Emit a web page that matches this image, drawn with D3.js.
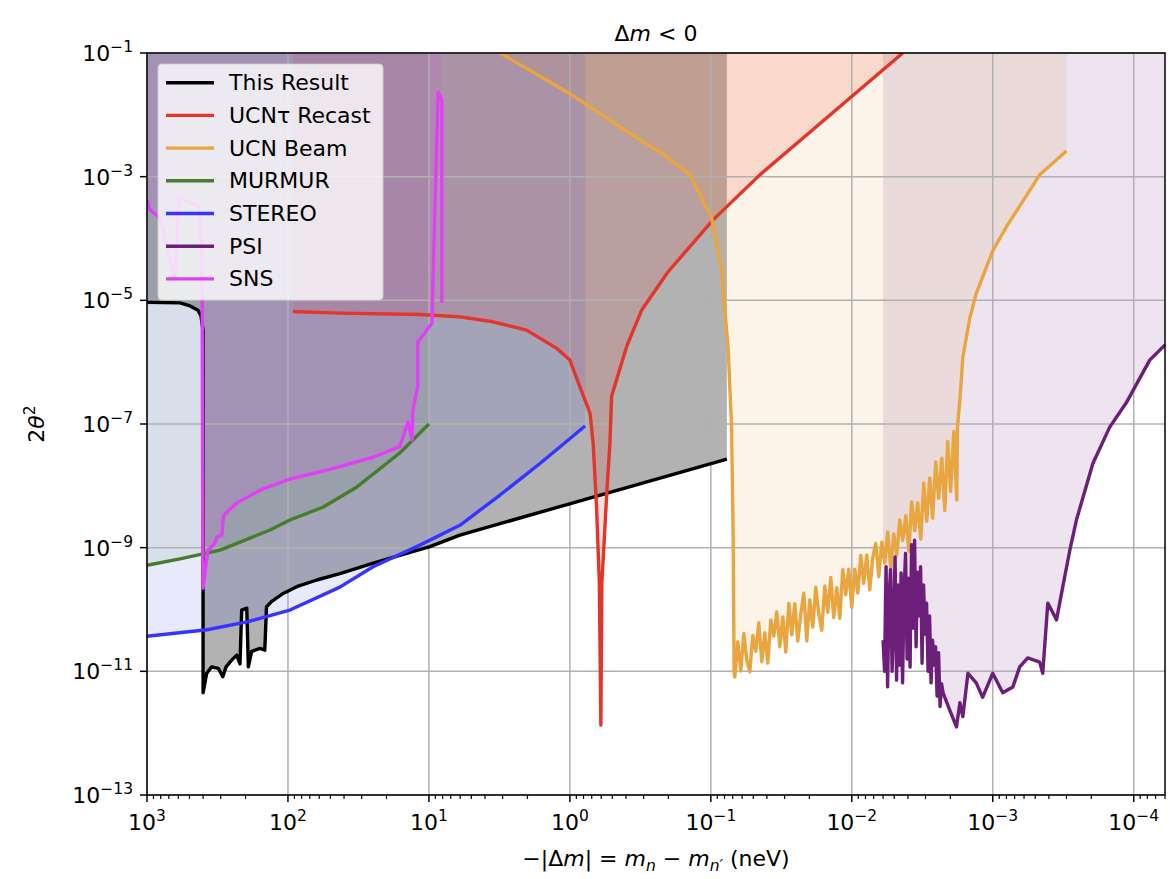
<!DOCTYPE html>
<html>
<head>
<style>
  body { margin: 0; background: #fff; }
  #chart svg { font-family: 'DejaVu Sans', sans-serif; }
</style>
</head>
<body>
<script src="https://d3js.org/d3.v7.min.js"></script>
<div id="chart"></div>
<script>
// curves: x = |Δm| in neV (axis runs right to left), y = 2θ²
const thisResultX = [1000, 583, 495, 435, 414, 401, 400, 377, 348, 312, 290, 275, 251, 231, 219, 213, 196, 191, 181, 158, 146, 142, 131, 108, 86.7, 62.5, 42.8, 24.8, 14.4, 9.84, 6.03, 0.077];
const thisResultY = [9.3e-6, 9.1e-6, 8.1e-6, 6.9e-6, 5.6e-6, 3.3e-6, 4.5e-12, 9.3e-12, 1.18e-11, 1.12e-11, 8.2e-12, 1.18e-11, 1.52e-11, 1.83e-11, 1.32e-11, 9.8e-11, 1.05e-10, 1.18e-11, 2.1e-11, 2.35e-11, 2.2e-11, 1.1e-10, 1.34e-10, 1.82e-10, 2.34e-10, 3.0e-10, 3.8e-10, 5.6e-10, 8.1e-10, 1.04e-9, 1.6e-9, 2.7e-8];

const ucnTauX = [92.2, 42.8, 11.6, 6.03, 3.52, 2.03, 1.24, 1.0, 0.85, 0.72, 0.684, 0.647, 0.618, 0.603, 0.593, 0.549, 0.52, 0.506, 0.396, 0.31, 0.201, 0.0964, 0.0449, 0.00435];
const ucnTauY = [6.6e-6, 6.2e-6, 5.9e-6, 5.4e-6, 4.5e-6, 3.3e-6, 1.67e-6, 1.08e-6, 4.0e-7, 1.5e-7, 4.9e-8, 4.6e-9, 2.7e-10, 1.35e-12, 2.7e-10, 6.7e-9, 4.9e-8, 2.8e-7, 1.78e-6, 6.9e-6, 2.9e-5, 2.0e-4, 1.07e-3, 0.1];

const ucnBeamX = [3.13, 1.0, 0.442, 0.206, 0.141, 0.0989, 0.0839, 0.0754, 0.0713, 0.0695, 0.0684,
  0.0676, 0.06437, 0.06129, 0.05836, 0.05557, 0.05292, 0.05039, 0.04798, 0.04569, 0.0435,
  0.04142, 0.03944, 0.03756, 0.03576, 0.03405, 0.03242, 0.03087, 0.0294, 0.02799, 0.02665,
  0.02538, 0.02417, 0.02301, 0.02191, 0.02086, 0.01987, 0.01892, 0.01801, 0.01715, 0.01633,
  0.01555, 0.01481, 0.0141, 0.01343, 0.01278, 0.01217, 0.01159, 0.01104, 0.01051, 0.01001,
  0.00953, 0.00907, 0.00864, 0.00823, 0.00783, 0.00746, 0.0071, 0.00676, 0.00644, 0.00613,
  0.00584, 0.00556, 0.00529, 0.00504, 0.0048, 0.00457, 0.00435, 0.00414, 0.00394, 0.00376,
  0.00358, 0.00341, 0.00324, 0.00309, 0.00294, 0.0028, 0.00267, 0.00254, 0.00242, 0.0023,
  0.00219, 0.00209, 0.00199, 0.00189, 0.0018,
  0.00178, 0.00171, 0.00163, 0.00146, 0.00131, 0.000995, 0.0008, 0.000465, 0.0003];
const ucnBeamY = [0.1, 2.2e-2, 6.4e-3, 2.1e-3, 1.07e-3, 2.2e-4, 3.1e-5, 1.67e-6, 9.1e-8, 1.7e-9, 9.3e-12,
  8.1e-12, 3.0e-11, 1.01e-11, 4.1e-11, 1.5e-11, 9.8e-12, 3.8e-11, 2.1e-11, 6.1e-11, 1.42e-11,
  4.2e-11, 1.36e-11, 6.8e-11, 3.7e-11, 9.1e-11, 2.5e-11, 7.6e-11, 2.05e-11, 1.25e-10, 3.9e-11,
  1.24e-10, 3.1e-11, 8.3e-11, 1.84e-10, 3.1e-11, 1.44e-10, 5.2e-11, 2.3e-10, 8.5e-11, 4.6e-11,
  2.4e-10, 9.0e-11, 3.3e-10, 7.4e-11, 2.25e-10, 7.2e-11, 4.4e-10, 1.75e-10, 4.5e-10, 1.08e-10,
  4.5e-10, 1.84e-10, 7.5e-10, 2.65e-10, 7.6e-10, 2.07e-10, 6.8e-10, 1.17e-9, 3.4e-10, 1.23e-9,
  5.7e-10, 1.79e-9, 4.5e-10, 1.67e-9, 7.6e-10, 2.8e-9, 1.31e-9, 3.3e-9, 8.8e-10, 5.5e-9,
  1.87e-9, 5.3e-9, 1.38e-9, 1.11e-8, 2.7e-9, 1.34e-8, 3.0e-9, 2.43e-8, 6.3e-9, 2.8e-8,
  4.0e-9, 5.2e-8, 8.1e-9, 7.6e-8, 5.9e-9,
  9.1e-8, 2.5e-7, 1.2e-6, 5.0e-6, 1.3e-5, 6.5e-5, 1.55e-4, 1.07e-3, 2.6e-3];

const murmurX = [1000, 583, 303, 208, 134, 96.8, 56.5, 32.4, 16.1, 10];
const murmurY = [5.2e-10, 6.6e-10, 9.1e-10, 1.29e-9, 1.93e-9, 2.8e-9, 4.5e-9, 9.6e-9, 3.4e-8, 1.0e-7];

const stereoX = [1000, 375, 195, 96.8, 42.8, 24.9, 11.6, 6.03, 3.13, 1.63, 0.78];
const stereoY = [3.7e-11, 4.7e-11, 6.3e-11, 9.8e-11, 2.3e-10, 4.9e-10, 1.1e-9, 2.3e-9, 7.1e-9, 2.3e-8, 9.3e-8];

const psiX = [0.006, 0.005855, 0.005713, 0.005575, 0.00544, 0.005308, 0.00518, 0.005054, 0.004932, 0.004813,
  0.004696, 0.004583, 0.004472, 0.004364, 0.004258, 0.004155, 0.004054, 0.003956, 0.003861, 0.003767,
  0.003676, 0.003587, 0.0035, 0.003416, 0.003333, 0.003252, 0.003174, 0.003097, 0.003022, 0.002949,
  0.002877, 0.002808, 0.00274, 0.002673, 0.002609, 0.002546, 0.002484, 0.002424, 0.002365, 0.002308, 0.002252,
  0.00202, 0.00181, 0.00171, 0.00163, 0.0015, 0.00131, 0.00118, 0.001, 0.00085, 0.00072, 0.000644, 0.000565,
  0.000465, 0.000442, 0.000407, 0.000353, 0.000319, 0.000284, 0.000255, 0.000195, 0.000148, 0.000113, 7.7e-5, 6.0e-5];
const psiY = [3.2e-11, 1.0e-11, 4.9e-10, 5.6e-12, 1.58e-10, 4.4e-10, 1.0e-11, 6.3e-11, 7.1e-10, 7.2e-12,
  2.5e-10, 1.26e-11, 3.9e-10, 6.5e-12, 2.0e-10, 8.1e-10, 1.58e-11, 3.2e-10, 1.17e-11, 1.12e-9,
  5.0e-11, 1.32e-9, 2.5e-11, 4.0e-10, 7.9e-11, 4.9e-10, 1.35e-11, 2.5e-10, 4.0e-11, 1.26e-10,
  1.0e-11, 7.9e-11, 6.5e-12, 3.2e-11, 1.26e-11, 2.5e-11, 4.0e-12, 2.0e-11, 2.7e-12, 6.3e-12, 4.5e-12,
  2.36e-12, 1.26e-12, 3.1e-12, 1.85e-12, 9.3e-12, 6.5e-12, 3.8e-12, 9.3e-12, 4.5e-12, 5.6e-12, 1.18e-11, 1.65e-11,
  1.41e-11, 9.3e-12, 1.27e-10, 6.8e-11, 2.3e-10, 9.1e-10, 2.8e-9, 2.3e-8, 8.9e-8, 2.2e-7, 1.08e-6, 1.9e-6];

const snsX = [1000, 953, 878, 809, 633, 593, 472, 428, 407, 401, 382, 369, 330, 319, 294, 289, 284, 230, 158, 96.8, 52.9, 24.9, 16.1, 14.1, 13.2, 13.0, 12.0, 12.0, 9.5, 9.4, 8.6, 8.1, 8.1];
const snsY = [4.2e-4, 2.9e-4, 2.5e-4, 2.14e-4, 2.1e-5, 4.5e-4, 3.7e-4, 3.2e-4, 4.5e-5, 2.2e-10, 5.2e-10, 9.1e-10, 1.18e-9, 1.48e-9, 1.6e-9, 2.8e-9, 3.4e-9, 5.3e-9, 8.5e-9, 1.29e-8, 1.8e-8, 2.9e-8, 4.3e-8, 1.08e-7, 5.5e-8, 1.68e-7, 4.0e-7, 2.1e-6, 4.3e-6, 1.47e-5, 2.3e-2, 1.74e-2, 9.1e-6];

const seriesNames = ['This Result', 'UCN\u03c4 Recast', 'UCN Beam', 'MURMUR', 'STEREO', 'PSI', 'SNS'];
const xMajorExps = [3, 2, 1, 0, -1, -2, -3, -4];
const yMajorExps = [-1, -3, -5, -7, -9, -11, -13];

const series = [
  {xs: thisResultX, ys: thisResultY, color: '#000000', alpha: 0.3},
  {xs: ucnTauX, ys: ucnTauY, color: '#e2362a', alpha: 0.15},
  {xs: ucnBeamX, ys: ucnBeamY, color: '#e9a53f', alpha: 0.12},
  {xs: murmurX, ys: murmurY, color: '#467d2c', alpha: 0.1},
  {xs: stereoX, ys: stereoY, color: '#3535ff', alpha: 0.1},
  {xs: psiX, ys: psiY, color: '#6b1f78', alpha: 0.12},
  {xs: snsX, ys: snsY, color: '#e040f5', alpha: 0.12}
];
series.forEach((s, i) => s.name = seriesNames[i]);

const width = 1170, height = 879;
const plotLeft = 147, plotRight = 1165, plotTop = 53, plotBottom = 795;
const lineW = 3.4;

const x = d3.scaleLog().domain([1000, 6.0e-5]).range([plotLeft, plotRight]);
const y = d3.scaleLog().domain([1e-13, 1e-1]).range([plotBottom, plotTop]);

const svg = d3.select('#chart').append('svg')
  .attr('width', width)
  .attr('height', height);

svg.append('defs').append('clipPath').attr('id', 'plotClip')
  .append('rect').attr('x', plotLeft).attr('y', plotTop)
  .attr('width', plotRight - plotLeft).attr('height', plotBottom - plotTop);

// filled exclusion regions, from each curve up past the top of the axes
const fills = svg.append('g').attr('clip-path', 'url(#plotClip)');
const area = d3.area().x(d => x(d[0])).y0(y(1)).y1(d => y(d[1]));
series.forEach(s => {
  fills.append('path')
    .datum(d3.zip(s.xs, s.ys))
    .attr('d', area)
    .attr('fill', s.color)
    .attr('fill-opacity', s.alpha);
});

// grid
const grid = svg.append('g').attr('stroke', '#b0b0b0').attr('stroke-width', 1.5);
xMajorExps.forEach(e => {
  grid.append('line').attr('x1', x(10 ** e)).attr('x2', x(10 ** e)).attr('y1', plotTop).attr('y2', plotBottom);
});
yMajorExps.forEach(e => {
  grid.append('line').attr('x1', plotLeft).attr('x2', plotRight).attr('y1', y(10 ** e)).attr('y2', y(10 ** e));
});

// curves
const lines = svg.append('g').attr('clip-path', 'url(#plotClip)');
const line = d3.line().x(d => x(d[0])).y(d => y(d[1]));
series.forEach(s => {
  lines.append('path')
    .datum(d3.zip(s.xs, s.ys))
    .attr('d', line)
    .attr('fill', 'none')
    .attr('stroke', s.color)
    .attr('stroke-width', lineW)
    .attr('stroke-linejoin', 'round');
});

// frame
svg.append('rect').attr('x', plotLeft).attr('y', plotTop)
  .attr('width', plotRight - plotLeft).attr('height', plotBottom - plotTop)
  .attr('fill', 'none').attr('stroke', '#000').attr('stroke-width', 1.5);

function expLabel(sel, e) {
  sel.append('tspan').text('10');
  sel.append('tspan').attr('dy', -9).attr('font-size', 15.5)
    .text(e < 0 ? '\u2212' + (-e) : String(e));
}

// x ticks
const ticks = svg.append('g').attr('stroke', '#000').attr('stroke-width', 1.5);
xMajorExps.forEach(e => {
  const px = x(10 ** e);
  ticks.append('line').attr('x1', px).attr('x2', px).attr('y1', plotBottom).attr('y2', plotBottom + 7);
  svg.append('text').attr('x', px).attr('y', 830).attr('text-anchor', 'middle')
    .attr('font-size', 22).call(expLabel, e);
});
for (let e = -5; e <= 2; e++) {
  for (let k = 2; k <= 9; k++) {
    const v = k * 10 ** e;
    if (v > 1000 || v < 6.0e-5) continue;
    ticks.append('line').attr('x1', x(v)).attr('x2', x(v))
      .attr('y1', plotBottom).attr('y2', plotBottom + 4).attr('stroke-width', 1.2);
  }
}

// y ticks
yMajorExps.forEach(e => {
  const py = y(10 ** e);
  ticks.append('line').attr('x1', plotLeft - 7).attr('x2', plotLeft).attr('y1', py).attr('y2', py);
  svg.append('text').attr('x', 133).attr('y', py + 8).attr('text-anchor', 'end')
    .attr('font-size', 22).call(expLabel, e);
});

// title
const title = svg.append('text').attr('x', (plotLeft + plotRight) / 2).attr('y', 41)
  .attr('text-anchor', 'middle').attr('font-size', 22);
title.append('tspan').text('\u0394');
title.append('tspan').attr('font-style', 'italic').text('m');
title.append('tspan').text(' < 0');

// x label
const xl = svg.append('text').attr('x', (plotLeft + plotRight) / 2).attr('y', 866)
  .attr('text-anchor', 'middle').attr('font-size', 22);
xl.append('tspan').text('\u2212|\u0394');
xl.append('tspan').attr('font-style', 'italic').text('m');
xl.append('tspan').text('| = ');
xl.append('tspan').attr('font-style', 'italic').text('m');
xl.append('tspan').attr('font-style', 'italic').attr('font-size', 15.5).attr('dy', 5).text('n');
xl.append('tspan').attr('dy', -5).text(' \u2212 ');
xl.append('tspan').attr('font-style', 'italic').text('m');
xl.append('tspan').attr('font-style', 'italic').attr('font-size', 15.5).attr('dy', 5).text('n\u2032');
xl.append('tspan').attr('dy', -5).text(' (neV)');

// y label
const yl = svg.append('text').attr('transform', `translate(44,${(plotTop + plotBottom) / 2}) rotate(-90)`)
  .attr('text-anchor', 'middle').attr('font-size', 22);
yl.append('tspan').text('2');
yl.append('tspan').attr('font-style', 'italic').text('\u03b8');
yl.append('tspan').attr('font-size', 15.5).attr('dy', -9).text('2');

// legend
const legend = svg.append('g');
legend.append('rect').attr('x', 158).attr('y', 64).attr('width', 225).attr('height', 236)
  .attr('rx', 4).attr('fill', '#fff').attr('fill-opacity', 0.8)
  .attr('stroke', '#cccccc').attr('stroke-opacity', 0.8).attr('stroke-width', 1.2);
series.forEach((s, i) => {
  const cy = 82.7 + i * 32.7;
  legend.append('line').attr('x1', 166).attr('x2', 214).attr('y1', cy).attr('y2', cy)
    .attr('stroke', s.color).attr('stroke-width', lineW);
  legend.append('text').attr('x', 229).attr('y', cy + 7.5).attr('font-size', 22)
    .attr('fill', '#000').text(s.name);
});
</script>
</body>
</html>
